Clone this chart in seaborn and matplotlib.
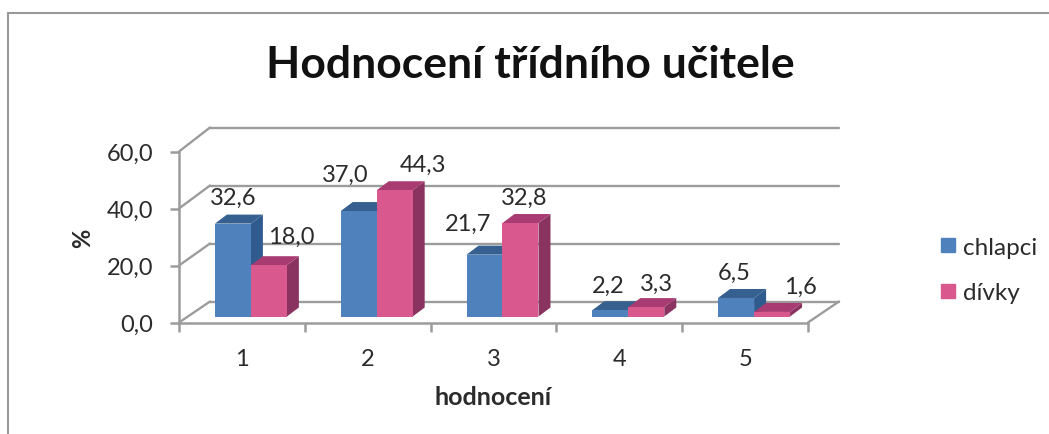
import matplotlib
matplotlib.use("Agg")
import matplotlib.pyplot as plt
from matplotlib.lines import Line2D
from matplotlib.patches import Polygon
from matplotlib.transforms import Affine2D
import pandas as pd
import seaborn as sns

categories = ["1", "2", "3", "4", "5"]
chlapci = [32.6, 37.0, 21.7, 2.2, 6.5]
divky = [18.0, 44.3, 32.8, 3.3, 1.6]
y_ticks = [0, 20, 40, 60]

BLUE = ("#4F81BD", "#2F5B8E", "#35608F")
PINK = ("#D9598F", "#8A3360", "#A83C72")
GRID = "#9C9C9C"
TEXT = "#2B2B2B"

# label offsets from the bar top, in pixels
label_offsets = {
    "chlapci": [(0, 26), (-13, 37), (-16, 31), (-2, 25), (-2, 26)],
    "dívky": [(22, 29), (28, 26), (4, 26), (10, 24), (28, 26)],
}


def comma(value):
    return f"{value:.1f}".replace(".", ",")


df = pd.DataFrame({"hodnocení": categories, "chlapci": chlapci, "dívky": divky})
df = df.melt(id_vars="hodnocení", var_name="pohlaví", value_name="procenta")

sns.set_theme(style="white")
plt.rcParams["font.family"] = ["Lato", "DejaVu Sans"]

W, H = 1049, 435
fig = plt.figure(figsize=(W / 100, H / 100), dpi=100)
ax = fig.add_axes([179 / W, (H - 323.5) / H, 629 / W, 171 / H])

sns.barplot(data=df, x="hodnocení", y="procenta", hue="pohlaví",
            palette={"chlapci": BLUE[0], "dívky": PINK[0]},
            width=0.572, gap=0, saturation=1, legend=False, linewidth=0, ax=ax)
ax.set_xlim(-0.5, 4.5)
ax.set_ylim(0, 60)

px_x = 629 / 5
px_y = 171 / 60

# fake 3D walls, same look as the old Excel chart
back_dx = 31 / px_x


def back_y(v):
    return v * 174 / 171 + 21 / px_y


for v in y_ticks:
    ax.plot([-0.5, -0.5 + back_dx], [v, back_y(v)], color=GRID, lw=1.7, clip_on=False, zorder=1)
    ax.plot([-0.5 + back_dx, 4.5 + back_dx], [back_y(v), back_y(v)], color=GRID, lw=1.7, clip_on=False, zorder=1)
ax.plot([4.5, 4.5 + back_dx], [0, back_y(0)], color=GRID, lw=1.7, clip_on=False, zorder=1)

# bars sit a bit behind the front axis
shift = Affine2D().translate(9, 6)
bars = sorted(ax.patches, key=lambda p: p.get_x())
depth_x = 12 / px_x
depth_y = 9 / px_y

z = 2
for i, bar in enumerate(bars):
    x0, x1 = bar.get_x(), bar.get_x() + bar.get_width()
    h = bar.get_height()
    name = "chlapci" if i % 2 == 0 else "dívky"
    front, side, top = BLUE if name == "chlapci" else PINK
    tr = ax.transData + shift
    ax.add_patch(Polygon([(x1, 0), (x1 + depth_x, depth_y), (x1 + depth_x, h + depth_y), (x1, h)],
                         facecolor=side, edgecolor="none", transform=tr, clip_on=False, zorder=z))
    ax.add_patch(Polygon([(x0, h), (x0 + depth_x, h + depth_y), (x1 + depth_x, h + depth_y), (x1, h)],
                         facecolor=top, edgecolor="none", transform=tr, clip_on=False, zorder=z))
    bar.set_transform(tr)
    bar.set_clip_on(False)
    bar.set_zorder(z + 1)
    z += 2
    dx, dy = label_offsets[name][i // 2]
    ax.annotate(comma(h), xy=((x0 + x1) / 2, h), xycoords=tr, xytext=(dx, dy),
                textcoords="offset pixels", ha="center", va="center",
                fontsize=17, color=TEXT, zorder=50, annotation_clip=False)

sns.despine(ax=ax)
for side_name in ("left", "bottom"):
    ax.spines[side_name].set_color(GRID)
    ax.spines[side_name].set_linewidth(1.8)
    ax.spines[side_name].set_zorder(1)

ax.set_yticks(y_ticks, [comma(v) for v in y_ticks])
ax.set_xticks([i - 0.5 for i in range(len(categories) + 1)], [""] * (len(categories) + 1))
ax.set_xticks(range(len(categories)), categories, minor=True)
ax.tick_params(axis="y", which="major", left=True, length=6.5, width=1.8, color=GRID, pad=12,
               labelsize=17, labelcolor=TEXT)
ax.tick_params(axis="x", which="major", bottom=True, length=6.5, width=1.8, color=GRID)
ax.tick_params(axis="x", which="minor", bottom=False, length=0, pad=18, labelsize=17, labelcolor=TEXT)
ax.set_xlabel("")
ax.set_ylabel("")

fig.text(530 / W, 1 - 65 / H, "Hodnocení třídního učitele", ha="center", va="center",
         fontsize=32, fontweight="bold", color="#111111")
fig.text(493 / W, 1 - 398 / H, "hodnocení", ha="center", va="center",
         fontsize=18, fontweight="bold", color=TEXT)
fig.text(83 / W, 1 - 238 / H, "%", ha="center", va="center", rotation=90,
         fontsize=17, fontweight="bold", color=TEXT)

# legend
handles = [
    Line2D([], [], linestyle="none", marker="s", markersize=10, color=BLUE[0], label="chlapci"),
    Line2D([], [], linestyle="none", marker="s", markersize=10, color=PINK[0], label="dívky"),
]
fig.legend(handles=handles, loc="center left", bbox_to_anchor=(941 / W, 1 - 271 / H),
           frameon=False, fontsize=17.5, labelspacing=1.0, handlelength=0.6, handletextpad=0.3,
           borderpad=0, borderaxespad=0, labelcolor=TEXT)

# outer chart frame, top and left only are inside the crop
fig.add_artist(Line2D([8 / W, 8 / W], [0, 1 - 14 / H], color="#999999", lw=1.5))
fig.add_artist(Line2D([8 / W, 1], [1 - 14 / H, 1 - 14 / H], color="#999999", lw=1.5))

fig.savefig("out.png", dpi=100)
